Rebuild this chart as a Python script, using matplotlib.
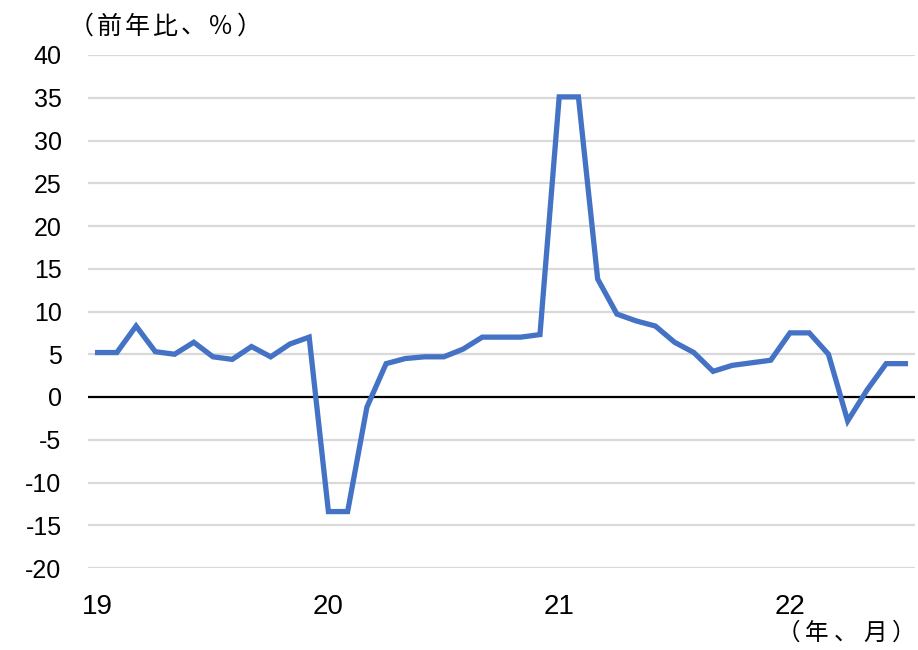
import numpy as np
import matplotlib.pyplot as plt
from matplotlib import font_manager

# 月次データ 2019年1月〜2022年7月（前年比、%）
v2019 = [5.2, 5.2, 8.3, 5.3, 5.0, 6.4, 4.7, 4.4, 5.9, 4.7, 6.2, 7.0]
v2020 = [-13.4, -13.4, -1.2, 3.9, 4.5, 4.7, 4.7, 5.6, 7.0, 7.0, 7.0, 7.3]
v2021 = [35.1, 35.1, 13.8, 9.7, 8.9, 8.3, 6.4, 5.2, 3.0, 3.7, 4.0, 4.3]
v2022 = [7.5, 7.5, 5.0, -2.8, 0.8, 3.9, 3.9]
values = v2019 + v2020 + v2021 + v2022

year_labels = ["19", "20", "21", "22"]
y_ticks = list(range(-20, 45, 5))

names = {f.name for f in font_manager.fontManager.ttflist}
narrow = "Liberation Sans Narrow" if "Liberation Sans Narrow" in names else "Liberation Sans"
jp = ["Noto Sans CJK JP", "DejaVu Sans"]

fig = plt.figure(figsize=(9.18, 6.5), dpi=100)
ax = fig.add_axes([88 / 918, 1 - 568 / 650, (915 - 88) / 918, (568 - 55) / 650])

x = np.arange(len(values))
for t in y_ticks:
    if t != 0:
        ax.axhline(t, color="#D9D9D9", linewidth=1.6, zorder=1)
ax.axhline(0, color="black", linewidth=1.6, zorder=2)
ax.plot(x, values, color="#4472C4", linewidth=3.8, solid_joinstyle="miter", zorder=3)

ax.set_xlim(-0.5, len(values) - 0.5)
ax.set_ylim(-20, 40)
ax.set_yticks(y_ticks)
ax.set_yticklabels([str(t) for t in y_ticks], fontfamily="Liberation Sans", fontsize=18)
ax.set_xticks([0, 12, 24, 36])
ax.set_xticklabels(year_labels, fontfamily=narrow, fontsize=20)
ax.tick_params(axis="both", length=0)
ax.tick_params(axis="y", pad=19)
ax.tick_params(axis="x", pad=19)
for s in ax.spines.values():
    s.set_visible(False)

# 単位ラベル（字間を広めに）
for i, ch in enumerate("（前年比、％）"):
    fig.text((81 + 28 * i) / 918, 1 - 27 / 650, ch, family=jp, fontsize=18,
             ha="center", va="center")
for i, ch in enumerate("（年、月）"):
    fig.text((788 + 29 * i) / 918, 1 - 633 / 650, ch, family=jp, fontsize=17,
             ha="center", va="center")

plt.savefig("out.png", dpi=100)
